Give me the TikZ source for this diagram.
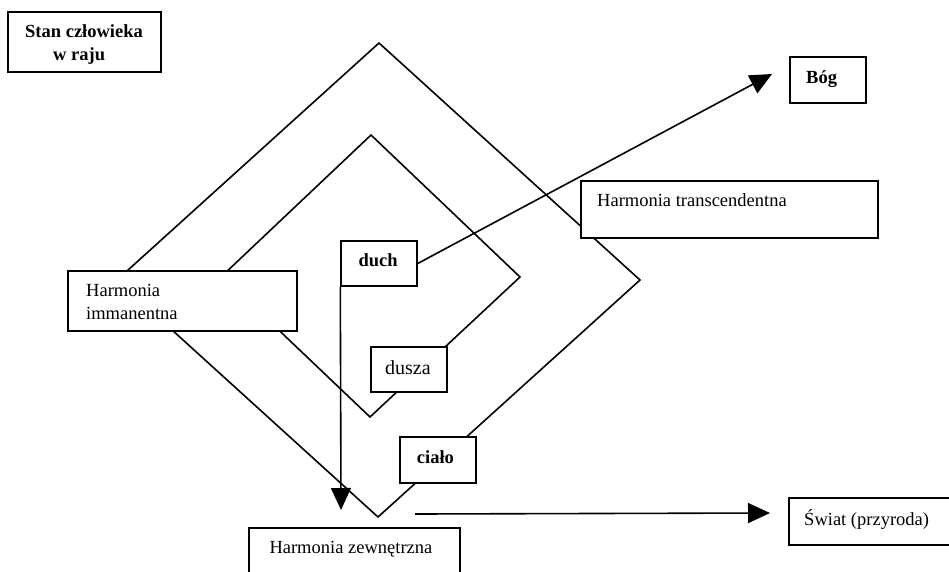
\documentclass[tikz,border=0pt]{standalone}
\usepackage{fontspec}
\setmainfont{Liberation Serif}
\usetikzlibrary{arrows.meta}
\begin{document}
\begin{tikzpicture}[x=1pt,y=-1pt,
  box/.style={draw=black, fill=white, line width=1.4pt, rectangle, inner sep=0pt},
  lbl/.style={anchor=base west, inner sep=0pt, font=\fontsize{18.5}{22}\selectfont},
  blbl/.style={anchor=base west, inner sep=0pt, font=\fontsize{18.5}{22}\selectfont\bfseries},
  dia/.style={draw=black, line width=1.6pt, line join=miter},
  arr/.style={draw=black, line width=1.6pt, -{Triangle[length=22pt,width=20pt]}}
]
\useasboundingbox (0,0) rectangle (949,571);
\fill[white] (0,0) rectangle (949,571);
\clip (0,0) rectangle (949,571);

% diamonds
\draw[dia] (379,43) -- (640,280) -- (378,517) -- (117,280) -- cycle;
\draw[dia] (371,135) -- (520,277) -- (370,417) -- (222,276) -- cycle;

% boxes
\node[box, minimum width=153, minimum height=60] (stan) at (84.5,42) {};
\node[box, minimum width=229, minimum height=60] (imman) at (182.5,301) {};
\node[box, minimum width=297, minimum height=57] (trans) at (729.5,209.5) {};
\node[box, minimum width=76, minimum height=45] (duch) at (379,263.5) {};
\node[box, minimum width=76, minimum height=45] (dusza) at (409,369.5) {};
\node[box, minimum width=76, minimum height=46] (cialo) at (438,460) {};
\node[box, minimum width=76, minimum height=46] (bog) at (828,80) {};
\node[box, minimum width=171, minimum height=47] (swiat) at (874.5,521.5) {};
\node[box, minimum width=211, minimum height=72] (zewn) at (354.5,564) {};

% arrows
\coordinate (bogtip) at (772,74);
\coordinate (downtip) at (341,510);
\coordinate (hstart) at (415,514);
\coordinate (htip) at (770,513);
\draw[arr] (duch.east) -- (bogtip);
\draw[arr] (duch.south west) -- (downtip);
\draw[arr] (hstart) -- (htip);

% texts
\node[blbl] (stan1) at (25,37.5) {Stan człowieka};
\node[blbl] (stan2) at (53,60) {w raju};
\node[lbl] (imman1) at (86,296.7) {Harmonia};
\node[lbl] (imman2) at (86,319.3) {immanentna};
\node[lbl] (transt) at (597,206) {Harmonia transcendentna};
\node[blbl] (ducht) at (358.3,266.7) {duch};
\node[lbl, font=\fontsize{20}{24}\selectfont] (duszat) at (385,374) {dusza};
\node[blbl] (cialot) at (416.7,463.3) {ciało};
\node[blbl] (bogt) at (806,83.3) {Bóg};
\node[lbl] (swiatt) at (804,525) {Świat (przyroda)};
\node[lbl] (zewnt) at (269.3,553.3) {Harmonia zewnętrzna};
\end{tikzpicture}
\end{document}
